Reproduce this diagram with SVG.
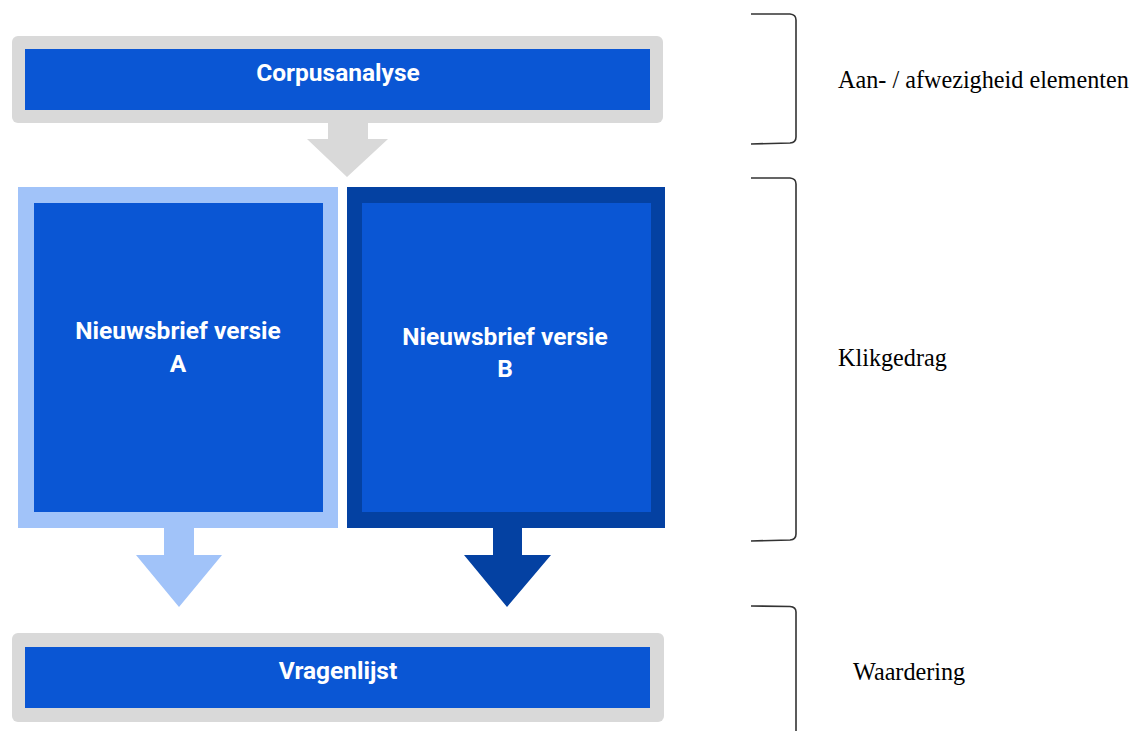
<svg xmlns="http://www.w3.org/2000/svg" width="1137" height="731" viewBox="0 0 1137 731">
<style>
.gray{fill:#D9D9D9}
.blue{fill:#0A56D4}
.light{fill:#A1C3F9}
.dark{fill:#0441A2}
.lbl{font-family:Roboto,"Liberation Sans",sans-serif;font-weight:bold;font-size:24.5px;fill:#fff;text-anchor:middle}
.side{font-family:"Liberation Serif","Times New Roman",serif;font-size:24.2px;fill:#000}
.br{fill:none;stroke:#333;stroke-width:1.6}
</style>
<rect width="1137" height="731" fill="#fff"/>
<g id="connectors">
<polygon class="gray" points="328,122 368,122 368,139 388,139 347,177 307,139 328,139"/>
<polygon class="light" points="164,527 194,527 194,555 222,555 179,607 136,555 164,555"/>
<polygon class="dark" points="493,527 522,527 522,555 551,555 507,607 464,555 493,555"/>
</g>
<g id="corpusanalyse">
<rect class="gray" x="12" y="36" width="651" height="87" rx="6"/>
<rect class="blue" x="25" y="49" width="625" height="61"/>
<text class="lbl" x="338" y="81">Corpusanalyse</text>
</g>
<g id="versieA">
<rect class="light" x="18" y="187" width="320" height="341"/>
<rect class="blue" x="34" y="203" width="289" height="309"/>
<text class="lbl" x="178" y="339">Nieuwsbrief versie</text>
<text class="lbl" x="178" y="372">A</text>
</g>
<g id="versieB">
<rect class="dark" x="347" y="187" width="318" height="341"/>
<rect class="blue" x="362" y="203" width="289" height="309"/>
<text class="lbl" x="505" y="345">Nieuwsbrief versie</text>
<text class="lbl" x="505" y="377">B</text>
</g>
<g id="vragenlijst">
<rect class="gray" x="12" y="633" width="652" height="89" rx="6"/>
<rect class="blue" x="25" y="647" width="625" height="61"/>
<text class="lbl" x="338" y="679">Vragenlijst</text>
</g>
<g id="brackets">
<path class="br" d="M751,14 L790,14 Q796,14.5 796,20 L796,137 Q796,142.5 790,143 L751,144"/>
<path class="br" d="M751,178 L790,178 Q796,178.5 796,184 L796,534 Q796,539.5 790,540 L751,541"/>
<path class="br" d="M751,606 L790,606.5 Q796,607 796,612 L796,731"/>
<text class="side" x="838" y="88">Aan- / afwezigheid elementen</text>
<text class="side" x="838" y="366">Klikgedrag</text>
<text class="side" x="853" y="680">Waardering</text>
</g>
</svg>
